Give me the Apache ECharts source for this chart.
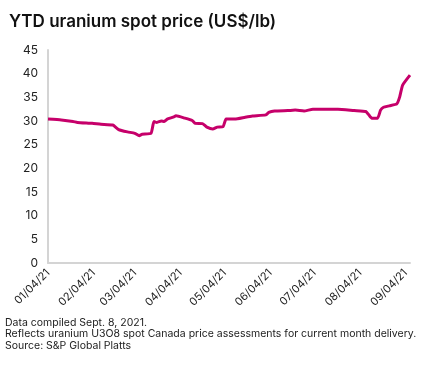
<!DOCTYPE html>
<html>
<head>
<meta charset="utf-8">
<script src="https://cdn.jsdelivr.net/npm/echarts@6/dist/echarts.min.js"></script>
<style>
html,body{margin:0;padding:0;background:#fff;}
#chart{width:425px;height:379px;}
</style>
</head>
<body>
<div id="chart"></div>
<script>
var dates = ["2021-01-04","2021-01-13","2021-01-21","2021-01-24","2021-02-03","2021-02-09","2021-02-17","2021-02-21","2021-02-27","2021-03-04","2021-03-07","2021-03-09","2021-03-15","2021-03-17","2021-03-19","2021-03-22","2021-03-24","2021-03-26","2021-03-30","2021-04-01","2021-04-07","2021-04-12","2021-04-14","2021-04-19","2021-04-22","2021-04-26","2021-04-29","2021-05-03","2021-05-05","2021-05-11","2021-05-18","2021-05-23","2021-06-01","2021-06-03","2021-06-07","2021-06-16","2021-06-21","2021-06-27","2021-07-03","2021-07-20","2021-07-31","2021-08-08","2021-08-10","2021-08-12","2021-08-16","2021-08-18","2021-08-20","2021-08-24","2021-08-29","2021-08-31","2021-09-02","2021-09-07"];
var prices = [30.4,30.2,29.9,29.7,29.5,29.3,29.15,28.2,27.7,27.4,26.9,27.2,27.4,29.9,29.7,30.0,29.9,30.4,30.8,31.1,30.6,30.1,29.5,29.45,28.7,28.3,28.7,28.8,30.4,30.4,30.8,31.05,31.3,31.8,32.1,32.2,32.3,32.1,32.5,32.5,32.2,32.0,31.3,30.6,30.6,32.3,32.9,33.2,33.6,35.1,37.6,39.7];
var tickDates = ["2021-01-04","2021-02-04","2021-03-04","2021-04-04","2021-05-04","2021-06-04","2021-07-04","2021-08-04","2021-09-04"];
var yTicks = {min:0, max:45, interval:5};
var titleText = "YTD uranium spot price (US$/lb)";
var footnotes = ["Data compiled Sept. 8, 2021.","Reflects uranium U3O8 spot Canada price assessments for current month delivery.","Source: S&P Global Platts"];

var DAY = 86400000;
function utc(s){var p=s.split("-");return Date.UTC(+p[0],+p[1]-1,+p[2]);}
var origin = utc(dates[0]);
function dayNum(s){return Math.round((utc(s)-origin)/DAY);}
function pad(n){return (n<10?"0":"")+n;}
function fmt(dn){var d=new Date(origin+Math.round(dn)*DAY);return pad(d.getUTCMonth()+1)+"/"+pad(d.getUTCDate())+"/"+String(d.getUTCFullYear()).slice(2);}
var seriesData = dates.map(function(d,i){return [dayNum(d),prices[i]];});
var tickVals = tickDates.map(dayNum);

var chart = echarts.init(document.getElementById('chart'),null,{renderer:'canvas'});
chart.setOption({
  animation:false,
  backgroundColor:'#ffffff',
  title:{text:titleText,left:4,top:8,textStyle:{fontFamily:'Inter',fontSize:17,fontWeight:600,color:'#111'}},
  grid:{left:48,right:15,top:50,bottom:116},
  xAxis:{
    type:'value',
    min:0,max:dayNum(dates[dates.length-1]),
    axisLine:{show:true,lineStyle:{color:'#d4d4d4',width:2}},
    axisTick:{show:false},
    splitLine:{show:false},
    axisLabel:{
      customValues:tickVals,
      rotate:45,fontFamily:'Inter',fontSize:11,color:'#222',margin:8,
      hideOverlap:false,
      formatter:function(v){return fmt(v);}
    }
  },
  yAxis:{
    type:'value',min:yTicks.min,max:yTicks.max,interval:yTicks.interval,
    axisLine:{show:true,lineStyle:{color:'#d4d4d4',width:2}},
    axisTick:{show:false},
    splitLine:{show:false},
    axisLabel:{fontFamily:'Inter',fontSize:12,color:'#222',margin:10}
  },
  series:[{type:'line',data:seriesData,showSymbol:false,smooth:0.15,
    lineStyle:{color:'#c6006a',width:3},itemStyle:{color:'#c6006a'}}],
  graphic:footnotes.map(function(t,i){return {type:'text',left:5,top:317+i*11.5,style:{text:t,font:'10.5px Inter',fill:'#222'}};})
});
</script>
</body>
</html>
